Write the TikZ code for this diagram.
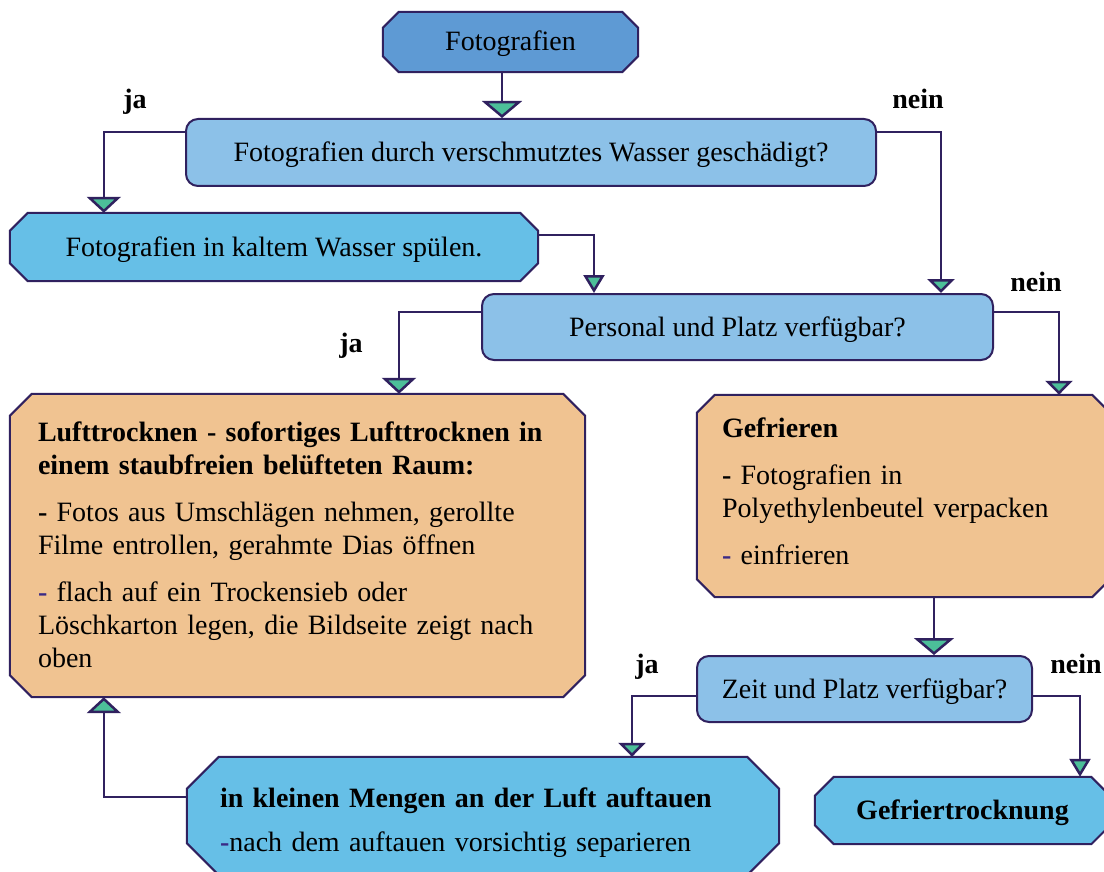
\documentclass[tikz,border=0pt]{standalone}
\usepackage{fontspec}
\setmainfont{Liberation Serif}
\usetikzlibrary{arrows.meta,backgrounds}
\definecolor{lineC}{HTML}{30215F}
\definecolor{topC}{HTML}{5E9AD4}
\definecolor{qC}{HTML}{8CC1E8}
\definecolor{cyC}{HTML}{66BFE7}
\definecolor{orC}{HTML}{F0C391}
\definecolor{arrC}{HTML}{4CBF99}
\definecolor{dashC}{HTML}{3A2A86}
\newcommand\fsz{\fontsize{28pt}{33pt}\selectfont}
\newcommand\octbox[3]{\draw[boxline,fill=#3] ([xshift=#2pt]#1.north west) -- ([xshift=-#2pt]#1.north east) -- ([yshift=-#2pt]#1.north east) -- ([yshift=#2pt]#1.south east) -- ([xshift=-#2pt]#1.south east) -- ([xshift=#2pt]#1.south west) -- ([yshift=#2pt]#1.south west) -- ([yshift=-#2pt]#1.north west) -- cycle;}
\tikzset{
  boxline/.style={draw=lineC, line width=2pt},
  octnode/.style={inner sep=0pt, font=\fsz, text height=24pt, text depth=6pt},
  qbox/.style={boxline, fill=qC, rounded corners=12pt, inner sep=0pt, font=\fsz, text height=24pt, text depth=6pt},
  txt/.style={inner sep=0pt, font=\fsz, align=left},
  lab/.style={inner sep=0pt, font=\fsz\bfseries, anchor=base},
  conn/.style={draw=lineC, line width=2.5pt},
  tipL/.style={-{Triangle[width=40pt,length=17pt,fill=arrC]}},
  tipM/.style={-{Triangle[width=34pt,length=16pt,fill=arrC]}},
  tipS/.style={-{Triangle[width=27pt,length=14pt,fill=arrC]}},
  tipT/.style={-{Triangle[width=21pt,length=18pt,fill=arrC]}},
}
\begin{document}
\begin{tikzpicture}[x=1pt,y=-1pt]
\useasboundingbox (0,0) rectangle (1104,872);
\clip (0,0) rectangle (1104,872);
% nodes
\node[octnode, minimum width=255pt, minimum height=60pt] (fot) at (510.5,42) {Fotografien};
\node[qbox, minimum width=690pt, minimum height=67pt] (q1) at (531,152.5) {Fotografien durch verschmutztes Wasser geschädigt?};
\node[octnode, minimum width=528pt, minimum height=68pt] (rinse) at (274,247) {Fotografien in kaltem Wasser spülen.};
\node[qbox, minimum width=511pt, minimum height=66pt] (q2) at (737.5,327) {Personal und Platz verfügbar?};
\node[octnode, minimum width=575pt, minimum height=303pt] (luft) at (297.5,545.5) {};
\node[txt, text width=545pt, anchor=base west] (lufttxt) at ([xshift=28pt,yshift=-48pt]luft.north west)
  {\textbf{Lufttrocknen - sofortiges Lufttrocknen in}\\
   \textbf{einem staubfreien belüfteten Raum:}\\[14pt]
   \textbf{-} Fotos aus Umschlägen nehmen, gerollte\\
   Filme entrollen, gerahmte Dias öffnen\\[14pt]
   {\color{dashC}\textbf{-}} flach auf ein Trockensieb oder\\
   Löschkarton legen, die Bildseite zeigt nach\\
   oben};
\node[octnode, minimum width=413pt, minimum height=202pt] (gef) at (903.5,496) {};
\node[txt, text width=380pt, anchor=base west] (geftxt) at ([xshift=25pt,yshift=-43pt]gef.north west)
  {\textbf{Gefrieren}\\[14pt]
   \textbf{-} Fotografien in\\
   Polyethylenbeutel verpacken\\[14pt]
   {\color{dashC}\textbf{-}} einfrieren};
\node[qbox, minimum width=335pt, minimum height=66pt] (q3) at (864.5,689) {Zeit und Platz verfügbar?};
\node[octnode, minimum width=592pt, minimum height=118pt] (meng) at (483,816) {};
\node[txt, text width=560pt, anchor=base west] (mengtxt) at ([xshift=33pt,yshift=-51pt]meng.north west)
  {\textbf{in kleinen Mengen an der Luft auftauen}\\[11pt]
   {\color{dashC}\textbf{-}}nach dem auftauen vorsichtig separieren};
\node[octnode, minimum width=295pt, minimum height=67pt, font=\fsz\bfseries] (gft) at (962.5,810.5) {Gefriertrocknung};
% octagon outlines and fills
\begin{scope}[on background layer]
\octbox{fot}{16}{topC}
\octbox{rinse}{18}{cyC}
\octbox{luft}{22}{orC}
\octbox{gef}{18}{orC}
\octbox{meng}{32}{cyC}
\octbox{gft}{19}{cyC}
\end{scope}
% labels
\node[lab] (ja1) at (135,109) {ja};
\node[lab] (nein1) at (918,109) {nein};
\node[lab] (nein2) at (1036,291) {nein};
\node[lab] (ja2) at (351,352) {ja};
\node[lab] (ja3) at (647,673) {ja};
\node[lab] (nein3) at (1076,673) {nein};
% connectors
\draw[conn,tipL] ([xshift=-8.5pt]fot.south) -- ([xshift=-8.5pt]fot.south |- q1.north);
\draw[conn,tipM] ([yshift=-14pt]q1.north west) -| ([xshift=94pt]rinse.north west);
\draw[conn,tipS] ([yshift=-14pt]q1.north east) -| ([xshift=203.5pt]q2.north);
\draw[conn,tipT] ([yshift=-22pt]rinse.north east) -| ([xshift=-143.5pt]q2.north);
\draw[conn,tipM] ([yshift=-19pt]q2.north west) -| ([xshift=101.5pt]luft.north);
\draw[conn,tipS] ([yshift=-19pt]q2.north east) -| ([xshift=155.5pt]gef.north);
\draw[conn,tipL] ([xshift=30.5pt]gef.south) -- ([xshift=30.5pt]gef.south |- q3.north);
\draw[conn,tipS] ([yshift=-41pt]q3.north west) -| ([xshift=149pt]meng.north);
\draw[conn,tipT] ([yshift=-41pt]q3.north east) -| ([xshift=117.5pt]gft.north);
\draw[conn,tipM] ([yshift=-40pt]meng.north west) -| ([xshift=94pt]luft.south west);
\end{tikzpicture}
\end{document}
